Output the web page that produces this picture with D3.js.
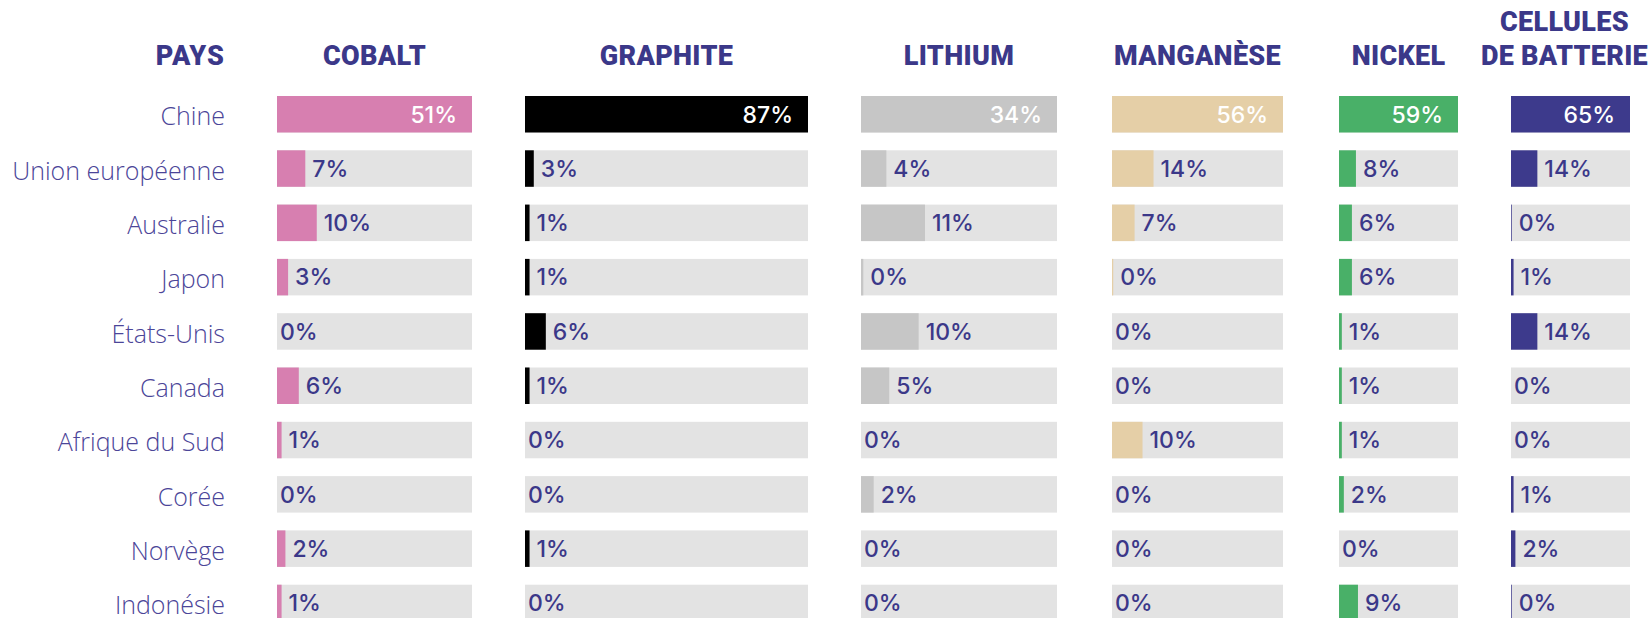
<!DOCTYPE html>
<html>
<head>
<meta charset="utf-8">
<script src="https://cdn.jsdelivr.net/npm/d3@7"></script>
<style>
  body { margin: 0; background: #fff; }
  svg { display: block; }
</style>
</head>
<body>
<div id="chart"></div>
<script>
// countries (rows)
const countries = ["Chine", "Union européenne", "Australie", "Japon", "États-Unis",
                   "Canada", "Afrique du Sud", "Corée", "Norvège", "Indonésie"];

// share of each country, in %, per material (estimated from the bars)
const cobalt    = [51, 7.4, 10.4, 2.9, 0, 5.7, 1.2, 0, 2.2, 1.2];
const graphite  = [87, 2.7, 1.4, 1.4, 6.4, 1.4, 0, 0, 1.4, 0];
const lithium   = [34, 4.4, 11.1, 0.4, 10, 4.9, 0, 2.2, 0, 0];
const manganese = [56, 13.6, 7.4, 0.4, 0, 0, 10, 0, 0, 0];
const nickel    = [59, 8.4, 6.4, 6.4, 1.4, 1.4, 1.4, 2.4, 0, 9.4];
const cellules  = [65, 14.4, 0.4, 1.4, 14.4, 0, 0, 1.4, 2.4, 0.4];

const materials = [
    { name: ["COBALT"], values: cobalt, color: "#d77fb0" },
    { name: ["GRAPHITE"], values: graphite, color: "#000000" },
    { name: ["LITHIUM"], values: lithium, color: "#c6c6c6" },
    { name: ["MANGANÈSE"], values: manganese, color: "#e5cfa7" },
    { name: ["NICKEL"], values: nickel, color: "#49b068" },
    { name: ["CELLULES", "DE BATTERIE"], values: cellules, color: "#3d3a8c" }
];

// column layout (left edge, width) in pixels
const columns = [
    { x: 277, w: 195 },
    { x: 525, w: 283 },
    { x: 861, w: 196 },
    { x: 1112, w: 171 },
    { x: 1339, w: 119 },
    { x: 1511, w: 119 }
];

const width = 1651, height = 618;
const navy = "#3b3889";
const labelRight = 225;

const svg = d3.select("#chart")
    .append("svg")
    .attr("width", width)
    .attr("height", height);

const yScale = d3.scaleBand()
    .domain(countries)
    .range([96, 96 + 10 * 54.3 - 17.8])
    .paddingInner(0.328)
    .paddingOuter(0);

// header "PAYS"
svg.append("text")
    .attr("x", labelRight)
    .attr("y", 65)
    .attr("text-anchor", "end")
    .attr("fill", navy)
    .style("font-family", "Roboto")
    .style("font-weight", 900)
    .style("font-size", "27px")
    .style("letter-spacing", "1px")
    .text("PAYS");

// country labels
svg.selectAll(".country")
    .data(countries)
    .enter()
    .append("text")
    .attr("class", "country")
    .attr("x", labelRight)
    .attr("y", d => yScale(d) + yScale.bandwidth() / 2)
    .attr("dy", "0.45em")
    .attr("text-anchor", "end")
    .attr("fill", "#4b4598")
    .style("font-family", "Open Sans")
    .style("font-weight", 300)
    .style("font-size", "25px")
    .text(d => d);

materials.forEach((m, k) => {
    const col = columns[k];
    const xScale = d3.scaleLinear()
        .domain([0, d3.max(m.values)])
        .range([0, col.w]);

    const g = svg.append("g")
        .attr("transform", `translate(${col.x},0)`);

    // header
    const head = g.append("text")
        .attr("x", col.w / 2)
        .attr("y", 65 - (m.name.length - 1) * 34.5)
        .attr("text-anchor", "middle")
        .attr("fill", navy)
        .style("font-family", "Roboto")
        .style("font-weight", 900)
        .style("font-size", "27px")
        .style("letter-spacing", "0.3px");
    m.name.forEach((line, i) => {
        head.append("tspan")
            .attr("x", col.w / 2)
            .attr("dy", i === 0 ? 0 : 34.5)
            .text(line);
    });
    // keep the header inside the page on the right
    const hb = head.node().getBBox();
    const overflow = col.x + hb.x + hb.width - (width - 3);
    if (overflow > 0) {
        head.selectAll("tspan").attr("x", col.w / 2 - overflow);
    }

    const rows = g.selectAll(".row")
        .data(countries.map((c, i) => ({ country: c, value: m.values[i] })))
        .enter()
        .append("g")
        .attr("class", "row")
        .attr("transform", d => `translate(0,${yScale(d.country)})`);

    // background track
    rows.append("rect")
        .attr("width", col.w)
        .attr("height", yScale.bandwidth())
        .attr("fill", "#e3e3e3");

    // value bar
    rows.append("rect")
        .attr("width", d => xScale(d.value))
        .attr("height", yScale.bandwidth())
        .attr("fill", m.color);

    // value label
    rows.append("text")
        .attr("x", (d, i) => i === 0 ? col.w - 15 : (d.value > 0 ? xScale(d.value) + 7 : 3))
        .attr("y", yScale.bandwidth() / 2)
        .attr("dy", "0.36em")
        .attr("text-anchor", (d, i) => i === 0 ? "end" : "start")
        .attr("fill", (d, i) => i === 0 ? "#ffffff" : navy)
        .style("font-family", "Inter")
        .style("font-weight", 500)
        .style("font-size", "23px")
        .text(d => Math.round(d.value) + "%");
});
</script>
</body>
</html>
